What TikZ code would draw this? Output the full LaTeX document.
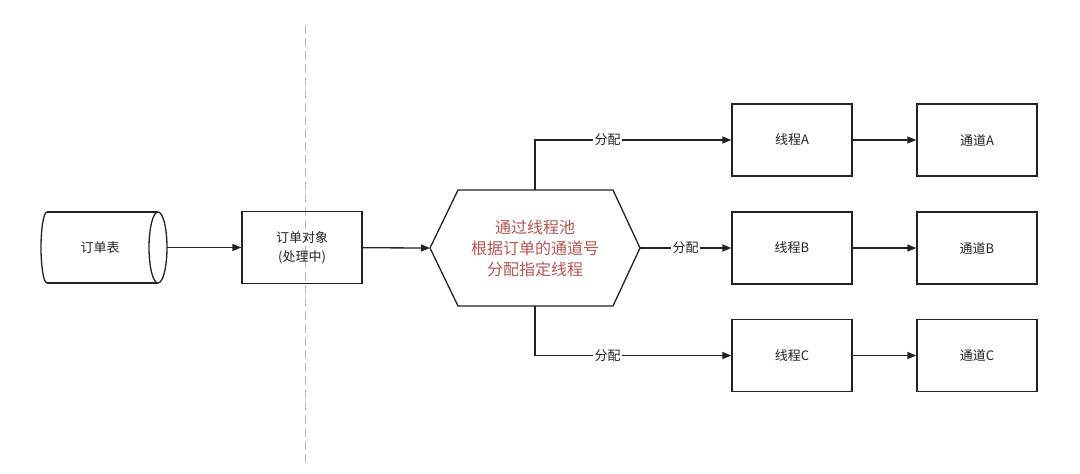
\documentclass[tikz,border=0pt]{standalone}
\usepackage{fontspec}
\setmainfont{Noto Sans CJK SC}
\usetikzlibrary{arrows.meta}
\definecolor{ln}{HTML}{222222}
\definecolor{redtxt}{HTML}{B85450}
\tikzset{
  ln/.style={draw=ln, line width=1.3pt},
  arr/.style={ln, -{Triangle[length=9pt,width=7pt]}},
  box/.style={ln, rectangle, minimum width=120pt, minimum height=72pt, inner sep=0pt, align=center, font=\fontsize{13}{19}\selectfont, text=ln},
  lbl/.style={fill=white, inner sep=1.5pt, font=\fontsize{13}{16}\selectfont, text=ln},
  txt/.style={inner sep=0pt, align=center, font=\fontsize{13}{19}\selectfont, text=ln}
}
\begin{document}
\begin{tikzpicture}[x=1pt,y=-1pt]
\useasboundingbox (0,0) rectangle (1080,474);
% dashed divider
\draw[draw=black!28, line width=1pt, dash pattern=on 9pt off 4pt] (305,25) -- (305,465);
% cylinder
\draw[ln] (47,212) -- (158,212) (47,283) -- (158,283);
\draw[ln] (47,212) arc[start angle=270, end angle=90, x radius=6, y radius=35.5];
\draw[ln] (158,247.5) ellipse[x radius=9, y radius=35.5];
\node[txt] (tbl) at (100,247.5) {订单表};
\coordinate (cylE) at (167,247.5);
% order object
\node[box] (obj) at (302,247.5) {订单对象\\(处理中)};
% hexagon
\coordinate (hexW) at (430,248);
\coordinate (hexE) at (640,248);
\coordinate (hexN) at (535,190);
\coordinate (hexS) at (535,306);
\draw[ln, line join=miter] (hexW) -- (458,190) -- (613,190) -- (hexE) -- (613,306) -- (458,306) -- cycle;
\node[inner sep=0pt, align=center, font=\fontsize{16}{21}\selectfont, text=redtxt] (pool) at (535,248) {通过线程池\\根据订单的通道号\\分配指定线程};
% threads
\node[box] (tA) at (792,140) {线程A};
\node[box] (tB) at (792,248) {线程B};
\node[box] (tC) at (792,355.5) {线程C};
% channels
\node[box] (cA) at (977,140) {通道A};
\node[box] (cB) at (977,248) {通道B};
\node[box] (cC) at (977,355.5) {通道C};
% connectors
\draw[arr] (cylE) -- (obj);
\draw[arr] (obj) -- (hexW);
\draw[arr] (hexN) |- node[lbl, pos=0.685] {分配} (tA);
\draw[arr] (hexE) -- node[lbl, pos=0.5] {分配} (tB);
\draw[arr] (hexS) |- node[lbl, pos=0.685] {分配} (tC);
\draw[arr] (tA) -- (cA);
\draw[arr] (tB) -- (cB);
\draw[arr] (tC) -- (cC);
\end{tikzpicture}
\end{document}
